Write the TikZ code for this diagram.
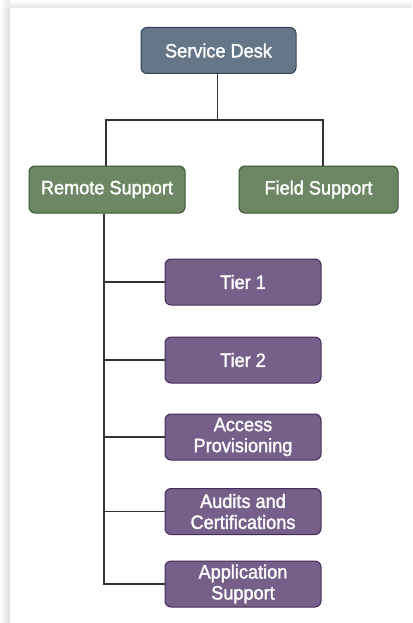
\documentclass[tikz,border=0pt]{standalone}
\usepackage{fontspec}
\setmainfont{Liberation Sans}[FakeStretch=0.94, FakeBold=1.6]
\definecolor{slatefill}{HTML}{647687}
\definecolor{slateline}{HTML}{314354}
\definecolor{greenfill}{HTML}{6D8764}
\definecolor{greenline}{HTML}{3A5431}
\definecolor{purplefill}{HTML}{76608A}
\definecolor{purpleline}{HTML}{432D57}
\definecolor{wire}{HTML}{333333}
\begin{document}
\begin{tikzpicture}[x=1pt,y=-1pt,
  box/.style={rounded corners=6pt, line width=1pt, text=white, align=center,
    font=\fontsize{19.3}{21}\selectfont, inner sep=0pt},
  topbox/.style={box, fill=slatefill, draw=slateline, minimum width=155pt, minimum height=46pt},
  midbox/.style={box, fill=greenfill, draw=greenline, minimum height=47pt},
  leafbox/.style={box, fill=purplefill, draw=purpleline, minimum width=156pt, minimum height=46pt},
  link/.style={draw=wire, line width=1.5pt}]
  % canvas with a soft shadow along the top and left edges
  \useasboundingbox (0,0) rectangle (412,623);
  \fill[white] (0,0) rectangle (412,623);
  \shade[left color=white, right color=black!14] (0,8) rectangle (10,623);
  \shade[top color=white, bottom color=black!10] (10,0) rectangle (412,8);
  \shade[left color=white, right color=black!10] (0,0) rectangle (10,8);

  % nodes
  \node[topbox] (sd) at (218.5,50.5) {Service Desk};
  \node[midbox, minimum width=156pt] (rs) at (107,189.5) {Remote Support};
  \node[midbox, minimum width=159pt] (fs) at (318.5,189.5) {Field Support};
  \node[leafbox] (t1) at (243,282) {Tier 1};
  \node[leafbox] (t2) at (243,360) {Tier 2};
  \node[leafbox] (ap) at (243,437) {Access\\Provisioning};
  \node[leafbox] (ac) at (243,511.5) {Audits and\\Certifications};
  \node[leafbox] (as) at (243,584) {Application\\Support};

  % connectors
  \coordinate (bus) at (217.5,120);
  \draw[link] ([xshift=-1pt]sd.south) -- (bus);
  \draw[link] (bus) -| ([xshift=-1pt]rs.north);
  \draw[link] (bus) -| ([xshift=4.5pt]fs.north);
  \coordinate (trunk) at ([xshift=-3pt]rs.south);
  \draw[link] (trunk) |- (as.west);
  \foreach \leaf in {t1,t2,ap,ac}
    \draw[link] (trunk |- \leaf.west) -- (\leaf.west);
\end{tikzpicture}
\end{document}
